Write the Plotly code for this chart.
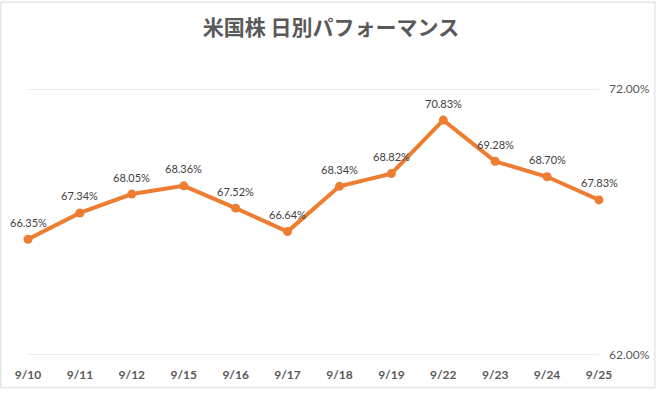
import plotly.graph_objects as go

dates = ["9/10", "9/11", "9/12", "9/15", "9/16", "9/17", "9/18", "9/19", "9/22", "9/23", "9/24", "9/25"]
values = [66.35, 67.34, 68.05, 68.36, 67.52, 66.64, 68.34, 68.82, 70.83, 69.28, 68.70, 67.83]
y_ticks = [62, 72]
y_tick_labels = ["62.00%", "72.00%"]
title = "米国株 日別パフォーマンス"

W, H = 662, 394
ML, MR, MT, MB = 28, 57, 89, 34
PW, PH = W - ML - MR, H - MT - MB

fig = go.Figure()
fig.add_trace(go.Scatter(
    x=dates, y=values, mode="lines+markers",
    line=dict(color="#ED7D31", width=4),
    marker=dict(color="#ED7D31", size=9),
    cliponaxis=False, hoverinfo="skip",
))

for d, v in zip(dates, values):
    fig.add_annotation(x=d, y=v, text=f"{v:.2f}%", showarrow=False, yshift=17,
                       font=dict(family="Lato, Open Sans, sans-serif", size=11, color="#404040"))

def px_x(p):
    return (p - ML) / PW

def px_y(p):
    return (H - MB - p) / PH

# gridlines
for t in y_ticks:
    fig.add_shape(type="line", xref="paper", yref="y", x0=0, x1=1, y0=t, y1=t,
                  line=dict(color="#D9D9D9", width=1), layer="below")

# outer border
fig.add_shape(type="rect", xref="paper", yref="paper",
              x0=px_x(0.5), x1=px_x(W - 0.5), y0=px_y(H - 0.5), y1=px_y(0.5),
              line=dict(color="#D9D9D9", width=1), fillcolor="rgba(0,0,0,0)", layer="below")

fig.update_layout(
    width=W, height=H,
    margin=dict(l=ML, r=MR, t=MT, b=MB),
    paper_bgcolor="white", plot_bgcolor="white",
    showlegend=False,
    title=dict(text=title, x=0.5, xref="container", xanchor="center", y=1 - 28 / H, yanchor="middle",
               font=dict(family="Noto Sans CJK JP", size=21, color="#595959", weight="bold")),
    xaxis=dict(type="category", range=[0, len(dates) - 1], showgrid=False, zeroline=False,
               showline=False, ticks="", ticklabelstandoff=11,
               tickfont=dict(family="Lato, Open Sans, sans-serif", size=12, color="#595959", weight="bold")),
    yaxis=dict(side="right", range=[62, 72], tickvals=y_ticks, ticktext=y_tick_labels,
               showgrid=False, zeroline=False, showline=False,
               ticks="", ticklabelstandoff=9,
               tickfont=dict(family="Lato, Open Sans, sans-serif", size=12, color="#595959")),
)

fig.write_html(
    "out.html",
    config={"responsive": False, "displayModeBar": False, "staticPlot": True},
    post_script="document.body.style.margin='0';document.body.style.overflow='hidden';",
)
